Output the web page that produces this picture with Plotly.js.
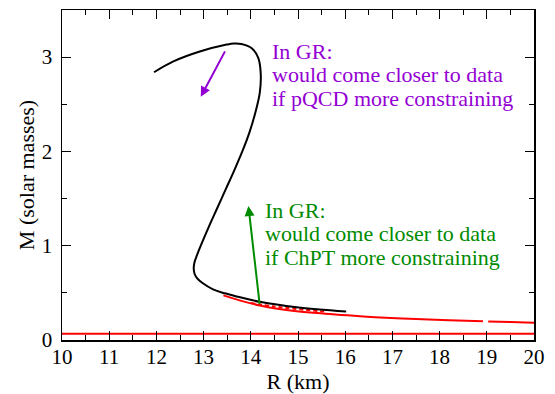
<!DOCTYPE html>
<html>
<head>
<meta charset="utf-8">
<script src="https://cdn.plot.ly/plotly-3.0.1.min.js"></script>
<style>html,body{margin:0;padding:0;background:#fff;}#chart{width:555px;height:394px;}</style>
</head>
<body>
<div id="chart"></div>
<script>
// Black M-R curve (GR)
const blackR = [11.95, 12.36, 12.92, 13.49, 13.64, 13.80, 14.02, 14.16, 14.21, 14.19, 14.09, 13.97, 13.82, 13.65, 13.47, 13.29, 13.11, 12.94, 12.86, 12.81, 12.79, 12.81, 12.87, 12.97, 13.20, 13.45, 13.70, 14.19, 14.97, 16.02];
const blackM = [2.84, 2.955, 3.06, 3.133, 3.145, 3.14, 3.095, 2.99, 2.83, 2.62, 2.40, 2.20, 2.00, 1.80, 1.60, 1.40, 1.20, 1.00, 0.90, 0.83, 0.76, 0.70, 0.65, 0.607, 0.537, 0.495, 0.462, 0.405, 0.347, 0.302];
// Upper red curve
const redR = [13.42, 13.8, 14.19, 14.6, 15.33, 16.31, 16.74, 17.5, 18.2, 18.92, null, 19.03, 19.5, 20.0];
const redM = [0.473, 0.415, 0.367, 0.33, 0.288, 0.252, 0.239, 0.222, 0.21, 0.199, null, 0.197, 0.19, 0.182];
// Red dashed segment
const redDashR = [14.0, 14.5, 15.0, 15.6];
const redDashM = [0.392, 0.355, 0.327, 0.300];
// Lower red line
const lowR = [10, 12, 14, 16, 18, 20];
const lowM = [0.065, 0.066, 0.066, 0.066, 0.066, 0.067];
// Arrows: [tailR, tailM, headR, headM]
const purpleArrow = [13.47, 3.077, 12.94, 2.58];
const greenArrow = [14.19, 0.368, 13.95, 1.42];
// Annotation text
const purpleLines = ["In GR:", "would come closer to data", "if pQCD more constraining"];
const greenLines = ["In GR:", "would come closer to data", "if ChPT more constraining"];
const xTicks = [10, 11, 12, 13, 14, 15, 16, 17, 18, 19, 20];
const yTicks = [0, 1, 2, 3];

const FONT = "Liberation Serif";
const PURPLE = "#9400D3";
const GREEN = "#008B00";

const traces = [
  {x: lowR, y: lowM, mode: "lines", line: {color: "#ff0000", width: 2}},
  {x: redR, y: redM, mode: "lines", line: {color: "#ff0000", width: 2, shape: "spline"}, connectgaps: false},
  {x: redDashR, y: redDashM, mode: "lines", line: {color: "#ff0000", width: 2, dash: "4px,3px", shape: "spline"}},
  {x: blackR, y: blackM, mode: "lines", line: {color: "#000000", width: 2, shape: "spline", smoothing: 1}}
];

const ann = [];
function arrow(a, col) {
  ann.push({x: a[2], y: a[3], ax: a[0], ay: a[1], xref: "x", yref: "y", axref: "x", ayref: "y",
    showarrow: true, arrowhead: 2, arrowsize: 1, arrowwidth: 2, arrowcolor: col, text: ""});
}
arrow(purpleArrow, PURPLE);
arrow(greenArrow, GREEN);
const purpleY = [3.065, 2.815, 2.565];
const greenY = [1.375, 1.125, 0.875];
purpleLines.forEach((t, i) => ann.push({x: 14.42, y: purpleY[i], xref: "x", yref: "y", text: t, showarrow: false,
  xanchor: "left", yanchor: "middle", borderpad: 0, font: {family: FONT, size: 22, color: PURPLE}}));
greenLines.forEach((t, i) => ann.push({x: 14.28, y: greenY[i], xref: "x", yref: "y", text: t, showarrow: false,
  xanchor: "left", yanchor: "middle", borderpad: 0, font: {family: FONT, size: 22, color: GREEN}}));

const axisCommon = {
  showline: true, linecolor: "#000", linewidth: 1.5, mirror: "allticks",
  ticks: "inside", ticklen: 9, tickwidth: 1, tickcolor: "#000",
  showgrid: false, zeroline: false, automargin: false,
  tickfont: {family: FONT, size: 21, color: "#000"}
};

const layout = {
  width: 555, height: 394,
  margin: {l: 62, r: 21, t: 10, b: 54},
  paper_bgcolor: "#fff", plot_bgcolor: "#fff",
  font: {family: FONT},
  showlegend: false,
  xaxis: Object.assign({}, axisCommon, {
    range: [10, 20], tickvals: xTicks, ticktext: xTicks.map(String),
    ticklabelstandoff: -3,
    minor: {dtick: 0.5, ticks: "inside", ticklen: 5, tickcolor: "#000", showgrid: false},
    title: {text: "R (km)", font: {family: FONT, size: 22, color: "#000"}, standoff: 9}
  }),
  yaxis: Object.assign({}, axisCommon, {
    range: [0, 3.5], tickvals: yTicks, ticktext: yTicks.map(String),
    ticklabelstandoff: 4,
    minor: {dtick: 0.5, ticks: "inside", ticklen: 5, tickcolor: "#000", showgrid: false},
    title: {text: "M (solar masses)", font: {family: FONT, size: 22, color: "#000"}, standoff: 1}
  }),
  annotations: ann
};

Plotly.newPlot("chart", traces, layout, {staticPlot: true, displayModeBar: false});
</script>
</body>
</html>
